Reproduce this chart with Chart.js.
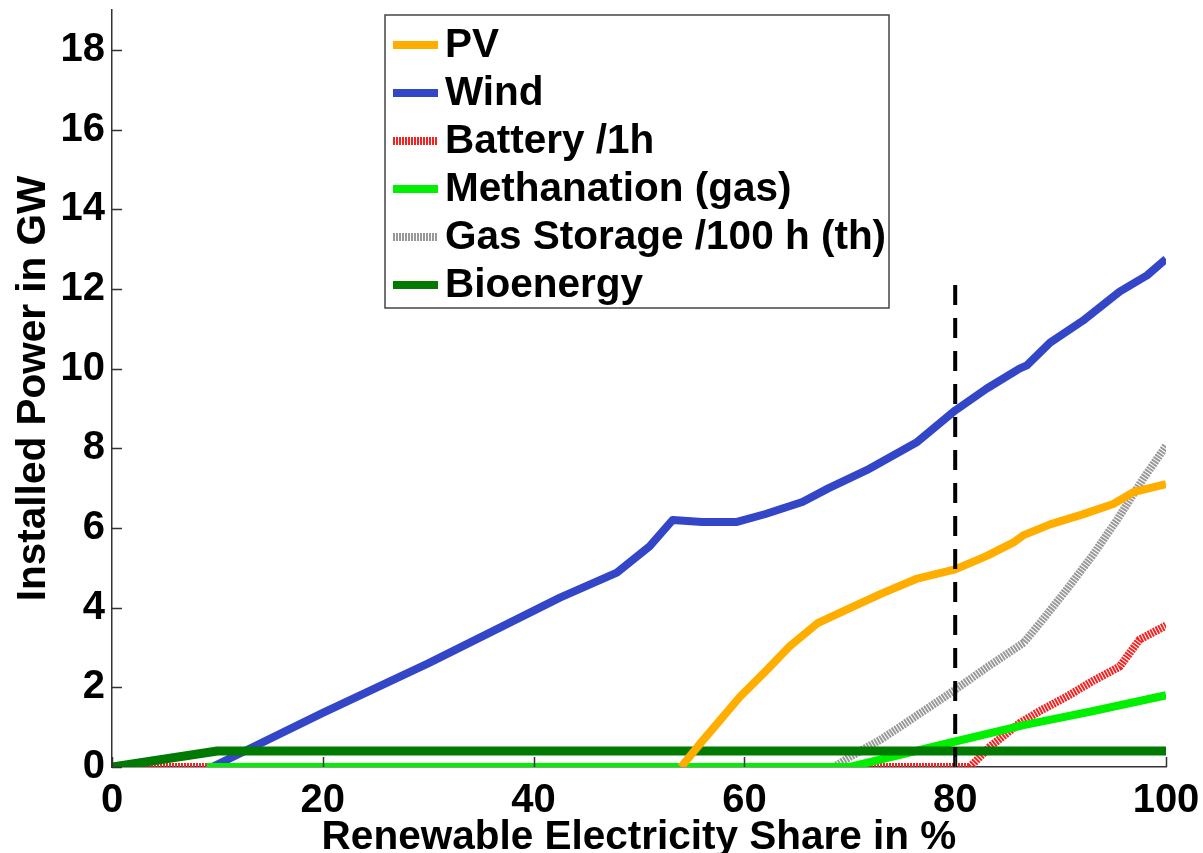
<!DOCTYPE html>
<html>
<head>
<meta charset="utf-8">
<script src="https://cdn.jsdelivr.net/npm/chart.js@4.4.0/dist/chart.umd.min.js"></script>
<style>
  html, body { margin: 0; padding: 0; background: #fff; }
  #wrap { width: 1203px; height: 853px; }
</style>
</head>
<body>
<div id="wrap"><canvas id="graf" width="1203" height="853"></canvas></div>
<script>
// tick values
const shareTicks = [0, 20, 40, 60, 80, 100];
const powerTicks = [0, 2, 4, 6, 8, 10, 12, 14, 16, 18];

// series (share in %, power in GW)
const pvShare = [54, 56, 59.6, 62, 64.3, 65.3, 67, 69.7, 73, 76.3, 80, 83, 85.5, 86.5, 89, 92.1, 95, 96.9, 100];
const pvGW    = [0, 0.65, 1.77, 2.4, 3.03, 3.25, 3.62, 3.95, 4.35, 4.72, 4.96, 5.3, 5.63, 5.82, 6.09, 6.34, 6.6, 6.9, 7.1];

const windShare = [9.5, 20, 30, 36.8, 42.5, 47.9, 51, 53.2, 56, 59.3, 62, 65.5, 68, 71.6, 76.4, 80, 83, 86.1, 86.8, 89, 92.1, 95.6, 98.2, 100];
const windGW    = [0, 1.36, 2.6, 3.5, 4.25, 4.88, 5.54, 6.2, 6.15, 6.15, 6.35, 6.65, 7.0, 7.45, 8.16, 8.95, 9.5, 10.0, 10.08, 10.65, 11.2, 11.93, 12.34, 12.75];

const batteryShare = [0, 81.4, 83.3, 86.1, 88, 90.6, 93, 95.6, 97.5, 100];
const batteryGW    = [0, 0, 0.51, 1.1, 1.4, 1.77, 2.15, 2.52, 3.2, 3.55];

const methShare = [9, 70, 80, 86.5, 93, 100];
const methGW    = [0, 0, 0.64, 1.05, 1.4, 1.8];

const gasShare = [9, 68.5, 70, 73, 75, 80, 83, 86.5, 88, 90.6, 93, 95.4, 97.8, 100];
const gasGW    = [0, 0, 0.25, 0.7, 1.05, 1.94, 2.5, 3.12, 3.6, 4.46, 5.3, 6.22, 7.22, 8.06];

const bioShare = [0, 10, 100];
const bioGW    = [0, 0.4, 0.4];

const markShare = [80, 80];
const markGW    = [0, 12.2];

const FONT = '"Liberation Sans", Arial, sans-serif';

function tocke(xs, ys) {
    return xs.map((x, i) => ({ x: x, y: ys[i] }));
}

// legend in a box inside the plot
const okvirLegende = {
    id: 'okvirLegende',
    afterDraw(chart) {
        const ctx = chart.ctx;
        const x0 = 385, y0 = 15, w = 504, h = 293;
        ctx.save();
        ctx.fillStyle = '#fff';
        ctx.fillRect(x0, y0, w, h);
        ctx.strokeStyle = '#444';
        ctx.lineWidth = 1.5;
        ctx.strokeRect(x0, y0, w, h);
        let k = 0;
        chart.data.datasets.forEach(ds => {
            if (!ds.uLegendi) return;
            const y = y0 + 30 + k * 48;
            ctx.strokeStyle = ds.borderColor;
            ctx.lineWidth = 8;
            ctx.setLineDash(ds.borderDash || []);
            ctx.beginPath();
            ctx.moveTo(x0 + 8, y);
            ctx.lineTo(x0 + 53, y);
            ctx.stroke();
            ctx.setLineDash([]);
            ctx.fillStyle = '#000';
            ctx.font = 'bold 40.5px ' + FONT;
            ctx.textBaseline = 'middle';
            ctx.fillText(ds.label, x0 + 60, y + 1);
            k++;
        });
        ctx.restore();
    }
};

// tick marks pointing into the plot
const unutarnjeCrtice = {
    id: 'unutarnjeCrtice',
    afterDatasetsDraw(chart) {
        const ctx = chart.ctx;
        const xs = chart.scales.x, ys = chart.scales.y;
        const a = chart.chartArea;
        ctx.save();
        ctx.strokeStyle = '#333';
        ctx.lineWidth = 1.5;
        ctx.beginPath();
        powerTicks.forEach(v => {
            const p = Math.round(ys.getPixelForValue(v)) + 0.5;
            ctx.moveTo(a.left, p);
            ctx.lineTo(a.left + 10, p);
        });
        shareTicks.forEach(v => {
            const p = Math.round(xs.getPixelForValue(v)) + 0.5;
            ctx.moveTo(p, a.bottom);
            ctx.lineTo(p, a.bottom - 10);
        });
        ctx.stroke();
        ctx.restore();
    }
};

const ctx = document.getElementById('graf').getContext('2d');
const graf = new Chart(ctx, {
    type: 'line',
    data: {
        datasets: [
            { label: 'PV', data: tocke(pvShare, pvGW), borderColor: '#FFAE00', borderWidth: 8, order: 0, uLegendi: true },
            { label: 'Wind', data: tocke(windShare, windGW), borderColor: '#3446C8', borderWidth: 8, order: 5, uLegendi: true },
            { label: 'Battery /1h', data: tocke(batteryShare, batteryGW), borderColor: '#F52222', borderWidth: 8, borderDash: [2, 1], order: 4, uLegendi: true },
            { label: 'Methanation (gas)', data: tocke(methShare, methGW), borderColor: '#00F000', borderWidth: 8, order: 2, uLegendi: true },
            { label: 'Gas Storage /100 h (th)', data: tocke(gasShare, gasGW), borderColor: '#999999', borderWidth: 8, borderDash: [2, 1], order: 3, uLegendi: true },
            { label: 'Bioenergy', data: tocke(bioShare, bioGW), borderColor: '#007A00', borderWidth: 9, order: 1, uLegendi: true },
            { label: '80 %', data: tocke(markShare, markGW), borderColor: '#000', borderWidth: 4, borderDash: [20, 13], order: -1, uLegendi: false }
        ]
    },
    options: {
        responsive: false,
        animation: false,
        parsing: false,
        layout: { padding: { top: 10, right: 37, left: 0, bottom: 0 } },
        elements: {
            point: { radius: 0 },
            line: { tension: 0, borderCapStyle: 'butt', borderJoinStyle: 'round', fill: false }
        },
        plugins: {
            legend: { display: false },
            tooltip: { enabled: false }
        },
        scales: {
            x: {
                type: 'linear',
                min: 0,
                max: 100,
                grid: { display: false, drawTicks: false },
                border: { display: true, color: '#333', width: 1.5 },
                afterBuildTicks: s => { s.ticks = shareTicks.map(v => ({ value: v })); },
                afterFit: s => { s.height = 86; s.paddingLeft = 0; s.paddingRight = 0; },
                ticks: {
                    color: '#000',
                    padding: 14,
                    maxRotation: 0,
                    font: { family: FONT, size: 40, weight: 'bold', lineHeight: 1 }
                },
                title: {
                    display: true,
                    text: 'Renewable Electricity Share in %',
                    color: '#000',
                    padding: { top: 0, bottom: 0 },
                    font: { family: FONT, size: 40.5, weight: 'bold', lineHeight: 0.75 }
                }
            },
            y: {
                type: 'linear',
                min: 0,
                max: 19,
                grid: { display: false, drawTicks: false },
                border: { display: true, color: '#333', width: 1.5 },
                afterBuildTicks: s => { s.ticks = powerTicks.map(v => ({ value: v })); },
                afterFit: s => { s.width = 112; s.paddingTop = 0; s.paddingBottom = 0; },
                ticks: {
                    color: '#000',
                    padding: 7,
                    font: { family: FONT, size: 40, weight: 'bold', lineHeight: 1 }
                },
                title: {
                    display: true,
                    text: 'Installed Power in GW',
                    color: '#000',
                    padding: { top: 10, bottom: 0 },
                    font: { family: FONT, size: 40.5, weight: 'bold', lineHeight: 1.2 }
                }
            }
        }
    },
    plugins: [unutarnjeCrtice, okvirLegende]
});
</script>
</body>
</html>
